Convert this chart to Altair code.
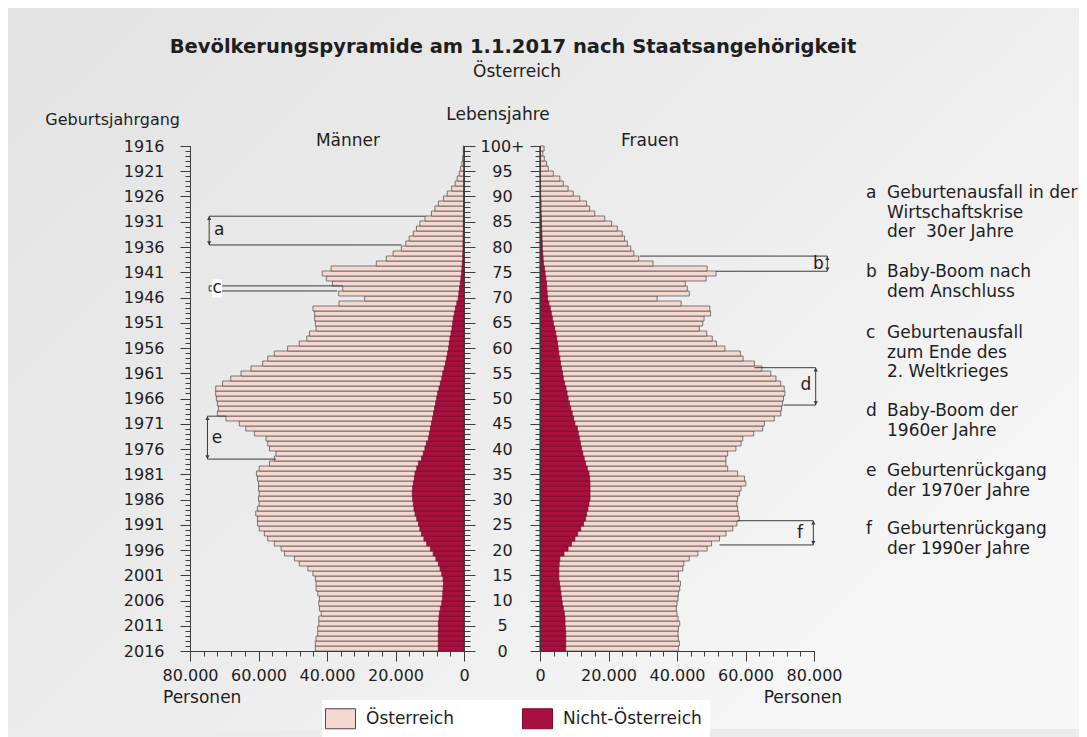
import altair as alt
import pandas as pd

# ------------------------------------------------------------------ data
alter = list(range(0, 101))  # 0 ... 100+

maenner_gesamt = [
    43400, 43400, 43200, 42700, 42700, 42400, 42400, 41700, 42200, 42400,
    42200, 42700, 43200, 43200, 43400, 44100, 45600, 48100, 49500, 52400,
    53400, 55400, 57300, 58300, 59800, 60300, 60300, 60800, 60300, 59800,
    60000, 59800, 60000, 60000, 60300, 60600, 59800, 56800, 55400, 54900,
    56800, 57300, 57800, 61200, 63700, 65600, 69500, 72000, 71700, 72000,
    72300, 72500, 72500, 70500, 68100, 65100, 62200, 58800, 57300, 55400,
    51500, 48100, 45900, 45100, 43200, 43400, 43600, 43600, 44100, 36500,
    29000, 36600, 35400, 38400, 40200, 41400, 38800, 25600, 22700, 20700,
    18300, 17000, 16000, 14800, 13900, 12900, 11400, 9500, 8500, 7500,
    6000, 4900, 3600, 2600, 2000, 1400, 1000, 600, 400, 200,
    200,
]
maenner_nicht_oe = [
    7500, 7500, 7500, 7500, 7400, 7500, 7300, 7200, 6900, 6500,
    6300, 6200, 6100, 6000, 6100, 6500, 7000, 7500, 8200, 9000,
    9800, 10900, 11700, 12400, 12900, 13300, 13800, 14300, 14600, 14800,
    15000, 15100, 15000, 14800, 14500, 14300, 13800, 13300, 12400, 11900,
    11400, 11000, 10400, 10100, 9800, 9500, 9200, 8900, 8600, 8300,
    8000, 7700, 7300, 6900, 6500, 6200, 5800, 5400, 5100, 4800,
    4500, 4300, 4100, 3800, 3500, 3300, 3100, 2800, 2500, 2100,
    1700, 1500, 1300, 1100, 900, 700, 600, 500, 400, 350,
    300, 300, 250, 250, 200, 200, 200, 150, 150, 100,
    100, 100, 50, 50, 50, 50, 50, 50, 0, 0,
    0,
]
frauen_gesamt = [
    40400, 40700, 40400, 40300, 40400, 40800, 40300, 40000, 39800, 40000,
    40300, 40400, 40800, 41000, 40400, 40400, 41700, 42000, 43600, 46100,
    48800, 50100, 52400, 54300, 56300, 57500, 58200, 57900, 57700, 57500,
    57700, 58200, 58700, 60100, 59700, 57700, 54800, 54300, 54300, 54800,
    57200, 58700, 59200, 62400, 65000, 65500, 68400, 70300, 70500, 70800,
    71100, 71500, 71300, 70300, 68900, 67400, 64800, 62600, 59300, 58500,
    54000, 51500, 50300, 48700, 46500, 47500, 47900, 49800, 49600, 41200,
    34200, 43600, 43000, 42400, 48500, 51400, 48800, 33000, 28800, 27400,
    26500, 25500, 24700, 24000, 22600, 20900, 18900, 16000, 14500, 13600,
    11600, 9700, 8200, 6800, 5800, 3900, 2400, 1900, 1250, 800,
    1200,
]
frauen_nicht_oe = [
    7500, 7500, 7500, 7500, 7400, 7300, 7300, 7100, 6800, 6500,
    6300, 6100, 5900, 5700, 5500, 5500, 5500, 5600, 5800, 7000,
    8200, 9200, 10200, 11000, 11900, 12700, 13300, 13600, 14000, 14300,
    14600, 14600, 14600, 14600, 14500, 14300, 13800, 13300, 12900, 12500,
    12100, 11800, 11500, 11200, 10900, 10200, 9800, 9400, 9000, 8600,
    8200, 7900, 7600, 7200, 6800, 6600, 6300, 6000, 5800, 5500,
    5300, 5100, 4900, 4600, 4300, 3900, 3600, 3300, 3000, 2600,
    2200, 2100, 2000, 1900, 1700, 1500, 1300, 1000, 900, 800,
    700, 650, 600, 550, 500, 450, 400, 350, 300, 300,
    250, 200, 200, 150, 150, 100, 100, 50, 50, 50,
    50,
]
gruppen = ["Österreich", "Nicht-Österreich"]

# annotation brackets (age boundaries / person values)
m_buchstaben = ["a", "c", "e"]
m_oben = [86.1, 72.3, 46.5]
m_unten = [80.4, 71.3, 38.0]
m_pfeil = [74400, 74400, 74900]
m_ende_oben = [11400, 35500, 69500]
m_ende_unten = [18250, 37000, 54900]
m_text_x = [71500, 72100, 72100]
m_text_y = [83.3, 71.8, 42.2]

f_buchstaben = ["b", "d", "f"]
f_oben = [78.2, 56.1, 25.8]
f_unten = [75.2, 48.7, 21.0]
f_pfeil = [83900, 80500, 79800]
f_ende_oben = [29100, 62600, 57700]
f_ende_unten = [51400, 71100, 52400]
f_text_x = [81300, 77600, 75900]
f_text_y = [76.7, 52.7, 23.3]

erlaeuterung_buchstaben = ["a", "b", "c", "d", "e", "f"]
erlaeuterung_texte = [
    ["Geburtenausfall in der", "Wirtschaftskrise", "der\u00a0 30er Jahre"],
    ["Baby-Boom nach", "dem Anschluss"],
    ["Geburtenausfall", "zum Ende des", "2. Weltkrieges"],
    ["Baby-Boom der", "1960er Jahre"],
    ["Geburtenrückgang", "der 1970er Jahre"],
    ["Geburtenrückgang", "der 1990er Jahre"],
]

# ------------------------------------------------------------------ style
FONT = "DejaVu Sans"
TXT = "#1e1e1e"
AXC = "#3c3c3c"
PINK = "#f4d9d3"
RED = "#a8103f"
EDGE = "#4d4545"
RED_EDGE = "#7c0b2c"
LINE = "#3a3a3a"
BG = "#ebebeb"

W, H, GAP = 274, 505, 76
OX_M, OY = 190, 146
OX_F = OX_M + W + GAP

MAJ_Y = list(range(0, 101, 5))
MIN_Y = list(range(0, 101))
MAJ_X = list(range(0, 80001, 20000))
MIN_X = list(range(0, 80001, 4000))
DOT = "replace(format(datum.value, ','), ',', '.')"

ys = alt.Scale(domain=[0, 100], nice=False, zero=False)
xs_m = alt.Scale(domain=[0, 80000], nice=False, reverse=True)
xs_f = alt.Scale(domain=[0, 80000], nice=False)


def axis(orient, values, tick, labels=False, **kw):
    return alt.Axis(orient=orient, values=values, tickSize=tick, labels=labels,
                    title=None, grid=False, domain=True, domainColor=AXC,
                    tickColor=AXC, tickWidth=1, domainWidth=1, labelFont=FONT,
                    labelFontSize=16, labelColor=TXT, labelOverlap=False,
                    labelFlush=False, zindex=1, **kw)


LEGEND = alt.Legend(
    title=None, orient="none", legendX=132, legendY=554, direction="horizontal",
    columns=2, symbolType="M-1.5,-1H1.5V1H-1.5Z", symbolSize=400,
    symbolStrokeColor="#555555", symbolStrokeWidth=1, symbolOpacity=1,
    labelFont=FONT, labelFontSize=17, labelColor=TXT, labelOffset=15,
    columnPadding=66, fillColor="white", padding=8,
)


def bars_df(gesamt, nicht):
    rows = [{"alter": a, "typ": gruppen[0], "wert": g} for a, g in zip(alter, gesamt)]
    rows += [{"alter": a, "typ": gruppen[1], "wert": n} for a, n in zip(alter, nicht)]
    return pd.DataFrame(rows)


def bars(df, xs, xax, yax):
    return alt.Chart(df).transform_calculate(
        lo="datum.alter * 100 / 101", hi="(datum.alter + 1) * 100 / 101"
    ).mark_bar(strokeWidth=0.7).encode(
        x=alt.X("wert:Q", scale=xs, axis=xax, stack=None),
        x2=alt.datum(0),
        y=alt.Y("lo:Q", scale=ys, axis=yax),
        y2="hi:Q",
        color=alt.Color("typ:N", scale=alt.Scale(domain=gruppen, range=[PINK, RED]), legend=LEGEND),
        stroke=alt.Stroke("typ:N", scale=alt.Scale(domain=gruppen, range=[EDGE, RED_EDGE]), legend=None),
    )


def brackets(df, xs, ax_top, ax_top_x, ax_bot, ax_vert):
    top = alt.Chart(df).mark_rule(color=LINE, strokeWidth=1).encode(
        x=alt.X("pfeil:Q", scale=xs, axis=ax_top_x), x2="eo:Q",
        y=alt.Y("oben:Q", scale=ys, axis=ax_top))
    bot = alt.Chart(df).mark_rule(color=LINE, strokeWidth=1).encode(
        x=alt.X("pfeil:Q", scale=xs, axis=None), x2="eu:Q",
        y=alt.Y("unten:Q", scale=ys, axis=ax_bot))
    vert = alt.Chart(df).mark_rule(color=LINE, strokeWidth=1).encode(
        x=alt.X("pfeil:Q", scale=xs, axis=None),
        y=alt.Y("oben:Q", scale=ys, axis=ax_vert), y2="unten:Q")
    up = alt.Chart(df).transform_filter("datum.b != 'c'").mark_point(
        shape="triangle-up", filled=True, size=18, color=LINE, opacity=1, yOffset=2).encode(
        x=alt.X("pfeil:Q", scale=xs, axis=None), y=alt.Y("oben:Q", scale=ys, axis=None))
    down = alt.Chart(df).transform_filter("datum.b != 'c'").mark_point(
        shape="triangle-down", filled=True, size=18, color=LINE, opacity=1, yOffset=-2).encode(
        x=alt.X("pfeil:Q", scale=xs, axis=None), y=alt.Y("unten:Q", scale=ys, axis=None))
    box = alt.Chart(df).transform_filter("datum.b == 'c'").mark_point(
        shape="M-0.5,-0.9H0.5V0.9H-0.5Z", filled=True, size=400, color="white", opacity=1).encode(
        x=alt.X("tx:Q", scale=xs, axis=None), y=alt.Y("ty:Q", scale=ys, axis=None))
    let = alt.Chart(df).mark_text(font=FONT, fontSize=17, color=TXT, align="center",
                                  baseline="middle").encode(
        x=alt.X("tx:Q", scale=xs, axis=None), y=alt.Y("ty:Q", scale=ys, axis=None), text="b:N")
    return [top, bot, vert, up, down, box, let]


def label(text, x, y, size=17, weight="normal", align="left", baseline="middle"):
    return alt.Chart(alt.Data(values=[{}])).mark_text(
        text=text, x=x, y=y, font=FONT, fontSize=size, fontWeight=weight, color=TXT,
        align=align, baseline=baseline, lineHeight=19.5)


# ------------------------------------------------------------------ male panel
am = pd.DataFrame(dict(b=m_buchstaben, oben=m_oben, unten=m_unten, pfeil=m_pfeil,
                       eo=m_ende_oben, eu=m_ende_unten, tx=m_text_x, ty=m_text_y))

# page background (soft grey gradient), also fixes the top-left corner of the layout
hintergrund = alt.Chart(alt.Data(values=[{}])).mark_rect(
    x=8 - OX_M, x2=1079 - OX_M, y=8 - OY, y2=729 - OY,
    color=alt.Gradient(gradient="linear", x1=0, y1=0, x2=1, y2=0.7,
                       stops=[alt.GradientStop(offset=0, color="#e3e3e3"),
                              alt.GradientStop(offset=0.55, color="#ececec"),
                              alt.GradientStop(offset=1, color="#f7f7f7")]))

male_layers = [
    hintergrund,
    bars(bars_df(maenner_gesamt, maenner_nicht_oe), xs_m,
         axis("bottom", MAJ_X, 10, labels=True, labelExpr=DOT, labelPadding=6),
         axis("left", MAJ_Y, 10, labels=True, labelExpr="'' + (2016 - datum.value)",
              labelPadding=16)),
    *brackets(am, xs_m, axis("left", MIN_Y, 5), axis("bottom", MIN_X, 5),
              axis("right", MAJ_Y, 11), axis("right", MIN_Y, 6)),
    label("Bevölkerungspyramide am 1.1.2017 nach Staatsangehörigkeit", 513 - OX_M, 47 - OY,
          size=19.5, weight="bold", align="center"),
    label("Österreich", 517 - OX_M, 72 - OY, align="center"),
    label("Lebensjahre", 498 - OX_M, 115 - OY, align="center"),
    label("Geburtsjahrgang", 180 - OX_M, 120 - OY, size=16, align="right"),
    label("Männer", 348 - OX_M, 141 - OY, align="center"),
    label("Frauen", 650 - OX_M, 141 - OY, align="center"),
    label("Personen", 163 - OX_M, 698 - OY),
    label("Personen", 842 - OX_M, 698 - OY, align="right"),
]
male = alt.layer(*male_layers).resolve_axis(x="independent", y="independent").properties(
    width=W, height=H)

# ------------------------------------------------------------------ female panel
af = pd.DataFrame(dict(b=f_buchstaben, oben=f_oben, unten=f_unten, pfeil=f_pfeil,
                       eo=f_ende_oben, eu=f_ende_unten, tx=f_text_x, ty=f_text_y))
erl_y = [198, 277, 338, 416, 476, 534]
female_layers = [
    bars(bars_df(frauen_gesamt, frauen_nicht_oe), xs_f,
         axis("bottom", MAJ_X, 10, labels=True, labelExpr=DOT, labelPadding=6),
         axis("left", MAJ_Y, 10, labels=True,
              labelExpr="datum.value == 100 ? '100+' : '' + datum.value",
              labelAlign="center", labelPadding=28)),
    *brackets(af, xs_f, axis("left", MIN_Y, 5), axis("bottom", MIN_X, 5), None, None),
]
for b, t, yy in zip(erlaeuterung_buchstaben, erlaeuterung_texte, erl_y):
    female_layers.append(label(b, 866 - OX_F, yy - OY, baseline="alphabetic"))
    female_layers.append(label(t, 887 - OX_F, yy - OY, baseline="alphabetic"))

female = alt.layer(*female_layers).resolve_axis(x="independent", y="independent").properties(
    width=W, height=H)

chart = alt.hconcat(male, female, spacing=GAP, bounds="flush").properties(
    padding=0, background=BG
).configure_view(stroke=None)

chart.save("out.html", embed_options={"renderer": "svg", "actions": False})
